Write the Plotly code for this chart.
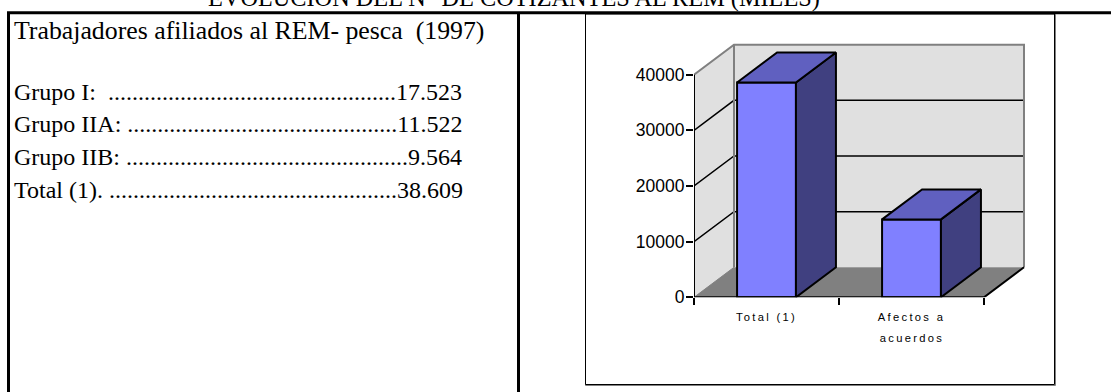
import plotly.graph_objects as go

W, H = 1111, 392

# Chart data
categories = ["Total (1)", "Afectos a"]
category_second_line = [None, "acuerdos"]
values = [38609, 14000]
y_ticks = [0, 10000, 20000, 30000, 40000]

# Side panel text
heading = "EVOLUCION DEL N° DE COTIZANTES AL REM (MILES)"
panel_title = "Trabajadores afiliados al REM- pesca  (1997)"
panel_title_baseline = 38
panel_lines = [
    "Grupo I:\u00a0\u00a0" + "." * 48 + "17.523",
    "Grupo IIA: " + "." * 45 + "11.522",
    "Grupo IIB: " + "." * 47 + "9.564",
    "Total (1). " + "." * 48 + "38.609",
]
panel_baselines = [99.5, 131.5, 164.5, 197]
PANEL_SIZE = 24
TITLE_SIZE = 25.8
HEADING_SIZE = 24.3

# Plot geometry, in page pixels
x_left, x_front_right = 694.0, 984.0
y_zero, y_40k = 297.3, 74.7
px_per_cat = (x_front_right - x_left) / 2
px_per_unit = (y_zero - y_40k) / 40000

# Depth of the 3D box, in axis units
dx = 40 / px_per_cat
dy = 30 / px_per_unit
bar_half = 0.203

x_min, x_max = -0.5, 1.5
x_range = [x_min, x_max + dx + 2 / px_per_cat]
y_range = [0, 40000 + dy + 2 / px_per_unit]

dom_x = [x_left / W, (x_left + (x_range[1] - x_range[0]) * px_per_cat) / W]
dom_y = [1 - y_zero / H, 1 - (y_zero - y_range[1] * px_per_unit) / H]


def poly(points):
    return "M " + " L ".join(f"{x},{y}" for x, y in points) + " Z"


def px(x):
    return x / W


def py(y):
    return 1 - y / H


shapes = []
# Walls and floor
shapes.append(dict(type="path", xref="x", yref="y", layer="below", line=dict(width=0), fillcolor="#e0e0e0",
                   path=poly([(x_min + dx, dy), (x_max + dx, dy), (x_max + dx, 40000 + dy), (x_min + dx, 40000 + dy)])))
shapes.append(dict(type="path", xref="x", yref="y", layer="below", line=dict(width=0), fillcolor="#e0e0e0",
                   path=poly([(x_min, 0), (x_min + dx, dy), (x_min + dx, 40000 + dy), (x_min, 40000)])))
shapes.append(dict(type="path", xref="x", yref="y", layer="below", line=dict(width=0), fillcolor="#808080",
                   path=poly([(x_min, 0), (x_max, 0), (x_max + dx, dy), (x_min + dx, dy)])))
# Gridlines across the side and back walls
for t in y_ticks[1:-1]:
    shapes.append(dict(type="path", xref="x", yref="y", layer="below", line=dict(color="black", width=1.5),
                       path=f"M {x_min},{t} L {x_min + dx},{t + dy} L {x_max + dx},{t + dy}"))
# Wall edges
shapes.append(dict(type="path", xref="x", yref="y", layer="below", line=dict(color="#808080", width=2),
                   path=f"M {x_min},40000 L {x_min + dx},{40000 + dy} L {x_max + dx},{40000 + dy} L {x_max + dx},{dy}"))
shapes.append(dict(type="line", xref="x", yref="y", layer="below", line=dict(color="#808080", width=2),
                   x0=x_min + dx, x1=x_min + dx, y0=dy, y1=40000 + dy))
shapes.append(dict(type="line", xref="x", yref="y", layer="below", line=dict(color="#808080", width=1),
                   x0=x_min, x1=x_min + dx, y0=0, y1=dy))

# Chart frame with its soft edge
shapes.append(dict(type="rect", xref="paper", yref="paper", layer="below", line=dict(color="#808080", width=1),
                   x0=px(585.5), x1=px(1055.5), y0=py(385.5), y1=py(14.5)))
shapes.append(dict(type="rect", xref="paper", yref="paper", layer="below", line=dict(color="#000000", width=1),
                   x0=px(585.5), x1=px(1054.5), y0=py(384.5), y1=py(13.5)))
# Panel rules
for (x0, y0, x1, y1) in [(7, 12.8, W, 12.8), (8.5, 12, 8.5, H), (518.5, 12, 518.5, H)]:
    shapes.append(dict(type="line", xref="paper", yref="paper", layer="above",
                       line=dict(color="#000000", width=3),
                       x0=px(x0), x1=px(x1), y0=py(y0), y1=py(y1)))

fig = go.Figure()

# Front faces of the columns
fig.add_trace(go.Bar(x=[0, 1], y=values, width=2 * bar_half,
                     marker=dict(color="#8080ff", line=dict(color="black", width=2)),
                     showlegend=False, hoverinfo="skip"))

# Side and top faces of the columns
for i, v in enumerate(values):
    xl, xr = i - bar_half, i + bar_half
    fig.add_trace(go.Scatter(x=[xr, xr + dx, xr + dx, xr, xr], y=[0, dy, v + dy, v, 0], mode="lines",
                             fill="toself", fillcolor="#404080", line=dict(color="black", width=2),
                             showlegend=False, hoverinfo="skip"))
    fig.add_trace(go.Scatter(x=[xl, xl + dx, xr + dx, xr, xl], y=[v, v + dy, v + dy, v, v], mode="lines",
                             fill="toself", fillcolor="#6060c0", line=dict(color="black", width=2),
                             showlegend=False, hoverinfo="skip"))

# Axis lines and the front floor edge
fig.add_trace(go.Scatter(x=[x_min, x_min, x_max, x_max + dx], y=[40000, 0, 0, dy], mode="lines",
                         line=dict(color="black", width=2), cliponaxis=False,
                         showlegend=False, hoverinfo="skip"))

# Overlay axis carrying the category labels
fig.add_trace(go.Scatter(x=[None], y=[None], xaxis="x2", showlegend=False, hoverinfo="skip"))

annotations = [
    dict(xref="paper", yref="paper", x=px(206), y=py(5 - 0.3 * HEADING_SIZE), xanchor="left", yanchor="middle",
         text=heading, showarrow=False, font=dict(family="Liberation Serif", size=HEADING_SIZE, color="black")),
    dict(xref="paper", yref="paper", x=px(12), y=py(panel_title_baseline - 0.3 * TITLE_SIZE),
         xanchor="left", yanchor="middle", text=panel_title, showarrow=False,
         font=dict(family="Liberation Serif", size=TITLE_SIZE, color="black")),
]
for line, base in zip(panel_lines, panel_baselines):
    annotations.append(dict(xref="paper", yref="paper", x=px(12), y=py(base - 0.3 * PANEL_SIZE),
                            xanchor="left", yanchor="middle", text=line, showarrow=False,
                            font=dict(family="Liberation Serif", size=PANEL_SIZE, color="black")))
for i, extra in enumerate(category_second_line):
    if extra:
        annotations.append(dict(xref="x", yref="y", x=i, y=0, yshift=-41, yanchor="middle", text=extra,
                                showarrow=False, font=dict(family="Liberation Sans", size=11.2, color="black")))

fig.update_layout(
    template="none",
    width=W, height=H, margin=dict(l=0, r=0, t=0, b=0, pad=0, autoexpand=False),
    paper_bgcolor="white", plot_bgcolor="rgba(0,0,0,0)", showlegend=False,
    xaxis=dict(domain=dom_x, range=x_range, tickvals=[-0.5, 0.5, 1.5], ticktext=["", "", ""],
               ticks="outside", ticklen=7, tickwidth=2, tickcolor="black", automargin=False,
               showgrid=False, zeroline=False, showline=False),
    xaxis2=dict(domain=dom_x, range=x_range, overlaying="x", anchor="y", side="bottom",
                tickvals=[0, 1], ticktext=categories, ticks="outside", ticklen=9, tickcolor="rgba(0,0,0,0)",
                tickfont=dict(family="Liberation Sans", size=11.2, color="black"), automargin=False,
                showgrid=False, zeroline=False, showline=False),
    yaxis=dict(domain=dom_y, range=y_range, tickvals=y_ticks, tickformat="d",
               ticks="outside", ticklen=7, tickwidth=2, tickcolor="black", automargin=False,
               ticklabelstandoff=-2,
               tickfont=dict(family="Liberation Sans", size=17.5, color="black"),
               showgrid=False, zeroline=False, showline=False),
    shapes=shapes, annotations=annotations,
)

# Wide tracking on the category labels
tracking = """
document.querySelectorAll('svg text').forEach(function (t) {
  var s = t.textContent;
  if (s === 'Total (1)' || s === 'Afectos a' || s === 'acuerdos') { t.style.letterSpacing = '2.3px'; }
});
"""
fig.write_html("out.html", post_script=tracking, config=dict(displayModeBar=False))
